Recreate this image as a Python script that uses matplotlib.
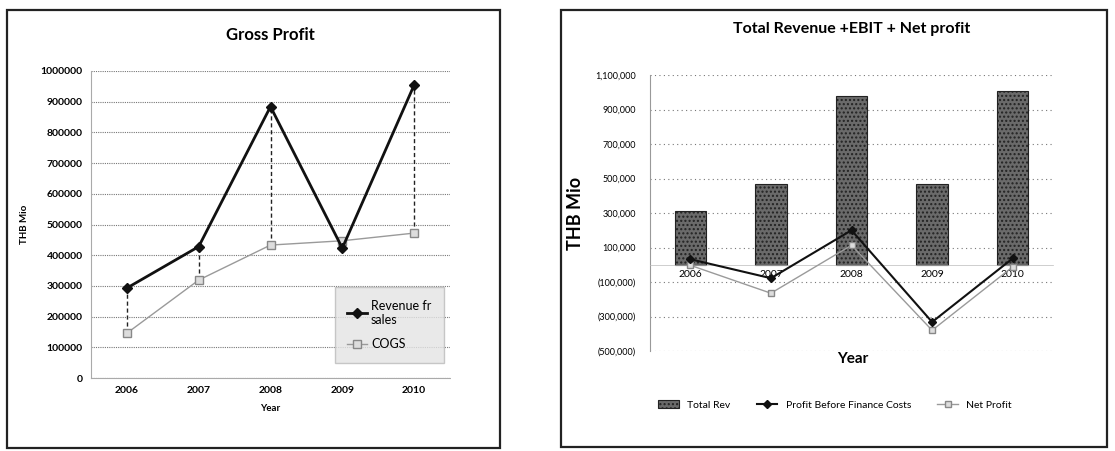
import numpy as np
import matplotlib.pyplot as plt
from matplotlib.patches import Rectangle
from matplotlib.ticker import FuncFormatter

plt.rcParams['font.family'] = ['Lato', 'DejaVu Sans']

years = ["2006", "2007", "2008", "2009", "2010"]

# left chart: gross profit
revenue = [293000, 428000, 884000, 423000, 954000]
cogs = [146000, 319000, 433000, 447000, 472000]

# right chart: total revenue, EBIT, net profit
total_rev = [312000, 468000, 978000, 468000, 1007000]
ebit = [32000, -78000, 200000, -332000, 37000]
net_profit = [-3000, -165000, 113000, -380000, -12000]

fig = plt.figure(figsize=(11.15, 4.51), dpi=100)
W, H = 1115, 451

# panel frames
for x0, y0, x1, y1 in [(7, 10, 500, 448), (561, 10, 1107, 447)]:
    fig.patches.append(Rectangle((x0 / W, 1 - y1 / H), (x1 - x0) / W, (y1 - y0) / H,
                                 transform=fig.transFigure, fill=False,
                                 edgecolor="#222222", linewidth=1.6))

x = np.arange(len(years))

# ---------- left: Gross Profit ----------
ax1 = fig.add_axes([91 / W, 1 - 378 / H, 359 / W, 307 / H])
ax1.vlines(x, cogs, revenue, colors="#222222", linestyles=(0, (3, 2)), linewidth=1, zorder=2)
ax1.plot(x, revenue, color="#111111", linewidth=2, marker="D", markersize=5,
         markerfacecolor="#111111", label="Revenue fr\nsales", zorder=4)
ax1.plot(x, cogs, color="#9a9a9a", linewidth=1, marker="s", markersize=6,
         markerfacecolor="#dddddd", markeredgecolor="#888888", label="COGS", zorder=3)
ax1.set_xlim(-0.5, 4.5)
ax1.set_ylim(0, 1000000)
ax1.set_yticks(np.arange(0, 1000001, 100000))
ax1.yaxis.set_major_formatter(FuncFormatter(lambda v, p: f"{v:.0f}"))
ax1.set_xticks(x)
ax1.set_xticklabels(years)
ax1.tick_params(axis="both", length=0, labelsize=7.5, pad=6)
for lab in ax1.get_xticklabels() + ax1.get_yticklabels():
    lab.set_fontweight("bold")
ax1.grid(axis="y", color="#777777", linestyle=(0, (1, 1)), linewidth=0.8)
for s in ax1.spines.values():
    s.set_visible(False)
for side in ["left", "bottom"]:
    ax1.spines[side].set_visible(True)
    ax1.spines[side].set_color("#aaaaaa")
    ax1.spines[side].set_linestyle((0, (1, 1)))
ax1.set_title("Gross Profit", fontsize=12, fontweight="bold", pad=22)
ax1.set_xlabel("Year", fontsize=7, fontweight="bold", labelpad=6)
ax1.set_ylabel("THB Mio", fontsize=7, fontweight="bold", labelpad=8)
leg1 = ax1.legend(loc="lower right", bbox_to_anchor=(1.0, 0.03),
                  fontsize=9, frameon=True, fancybox=False, handlelength=1.6,
                  borderpad=1.0, labelspacing=1.0, handletextpad=0.3)
leg1.get_frame().set_facecolor("#e4e4e4")
leg1.get_frame().set_edgecolor("#bbbbbb")

# ---------- right: Total Revenue + EBIT + Net profit ----------
ax2 = fig.add_axes([650 / W, 1 - 351 / H, 403 / W, 276 / H])
ax2.bar(x, total_rev, width=0.39, color="#6a6a6a", edgecolor="#222222",
        hatch="....", linewidth=0.8, label="Total Rev", zorder=2)
ax2.plot(x, ebit, color="#111111", linewidth=1.5, marker="D", markersize=4,
         label="Profit Before Finance Costs", zorder=4)
ax2.plot(x, net_profit, color="#9a9a9a", linewidth=1, marker="s", markersize=5,
         markerfacecolor="#dddddd", markeredgecolor="#888888", label="Net Profit", zorder=3)
ax2.set_xlim(-0.5, 4.5)
ax2.set_ylim(-500000, 1100000)
ax2.set_yticks(np.arange(-500000, 1100001, 200000))
ax2.yaxis.set_major_formatter(FuncFormatter(
    lambda v, p: f"({abs(v):,.0f})" if v < 0 else f"{v:,.0f}"))
ax2.set_xticks(x)
ax2.set_xticklabels(years)
ax2.tick_params(axis="y", length=0, labelsize=6.5, pad=10)
ax2.tick_params(axis="x", length=0, labelsize=7.5, pad=4)
for lab in ax2.get_xticklabels():
    lab.set_fontweight("bold")
ax2.grid(axis="y", color="#777777", linestyle=(0, (1, 3)), linewidth=0.8)
for s in ax2.spines.values():
    s.set_visible(False)
ax2.spines["left"].set_visible(True)
ax2.spines["left"].set_color("#999999")
ax2.spines["bottom"].set_visible(True)
ax2.spines["bottom"].set_position(("data", 0))
ax2.spines["bottom"].set_color("#bbbbbb")
ax2.spines["bottom"].set_linewidth(0.5)
ax2.set_title("Total Revenue +EBIT + Net profit", fontsize=11.5, fontweight="bold", pad=30)
ax2.set_ylabel("THB Mio", fontsize=13, fontweight="bold", labelpad=8)
fig.text(853 / W, 1 - 359 / H, "Year", fontsize=11, fontweight="bold", ha="center", va="center")
h2, l2 = ax2.get_legend_handles_labels()
order = [2, 0, 1]
fig.legend([h2[i] for i in order], [l2[i] for i in order], loc="center",
           bbox_to_anchor=(835 / W, 1 - 405 / H), ncol=3, fontsize=7.5, frameon=False,
           handlelength=2, columnspacing=2.5)

fig.savefig("out.png", dpi=100)
